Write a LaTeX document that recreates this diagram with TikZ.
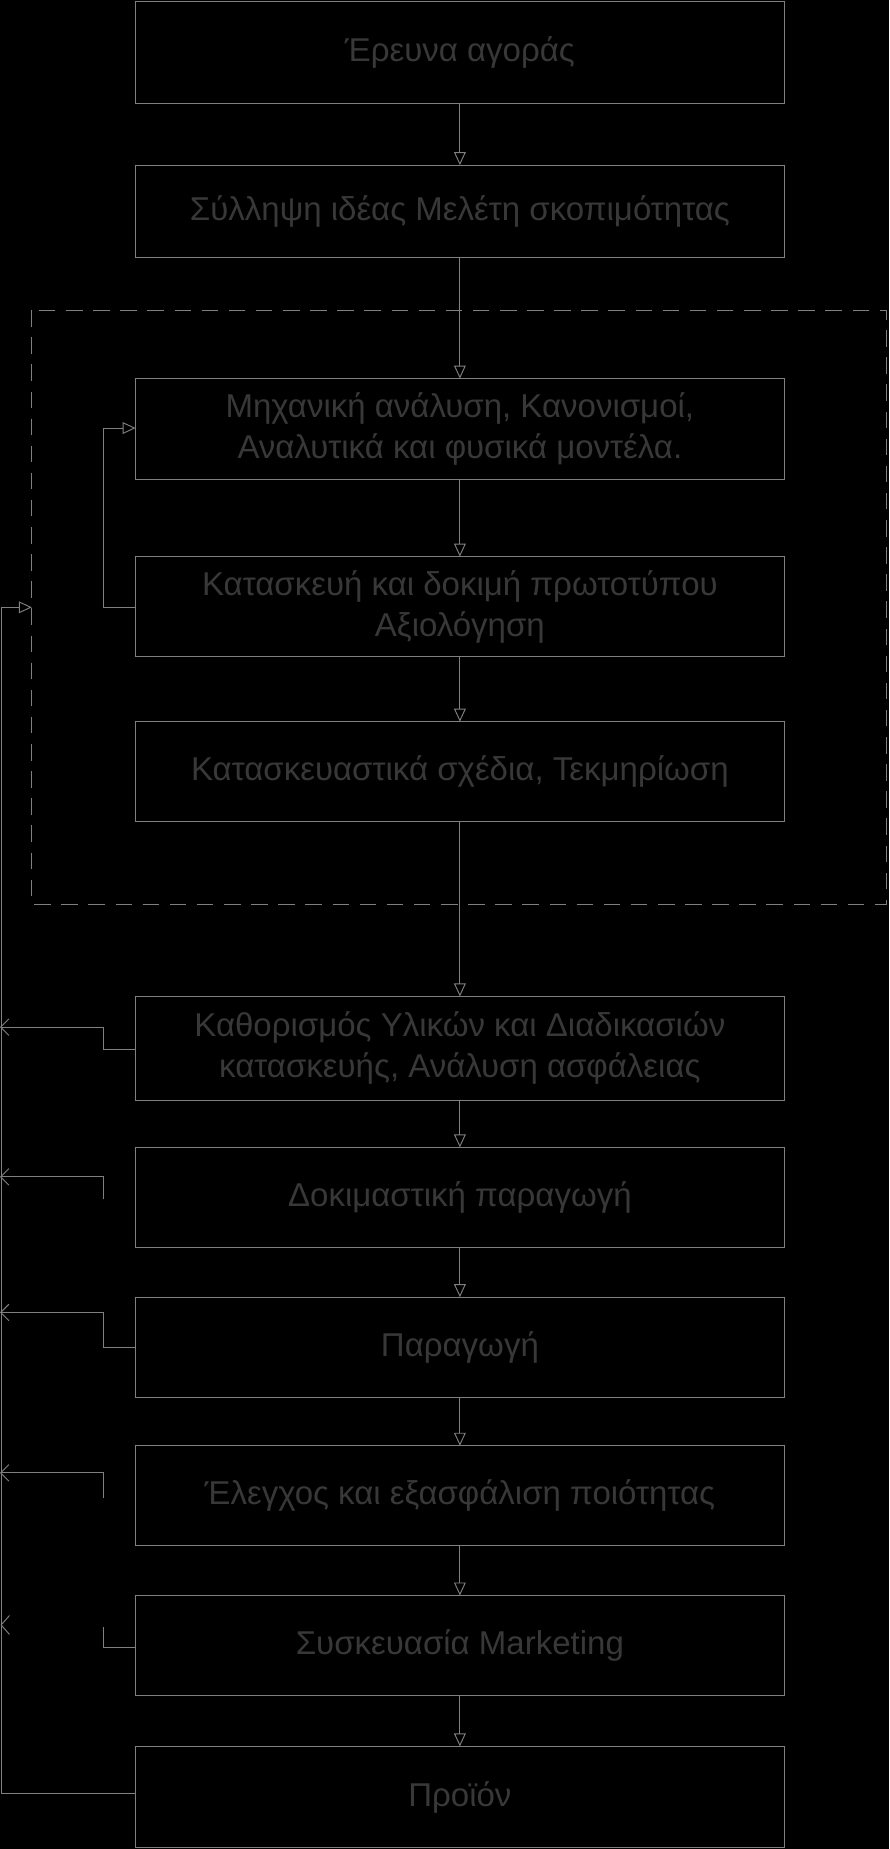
\documentclass[tikz,border=0pt]{standalone}
\usepackage{fontspec}
\setmainfont{Liberation Sans}
\usetikzlibrary{arrows.meta}
\begin{document}
\begin{tikzpicture}[x=1pt,y=-1pt,
  ln/.style={draw=black!50,line width=0.8pt},
  arr/.style={ln,-{Triangle[open,length=11pt,width=10pt]}},
  larr/.style={ln,-{Straight Barb[length=7pt,width=14pt]}},
  txt/.style={text=black!78,font=\fontsize{28}{35}\selectfont,align=center}]
\fill[black] (0,0) rectangle (754,1568);
\useasboundingbox (0,0) rectangle (754,1568);
\def\bx#1#2#3#4{\draw[ln] (115,#2) rectangle (665,#3);
  \node[txt] (#1) at (390,{(#2+#3)/2}) {#4};
  \coordinate (#1t) at (390,#2); \coordinate (#1b) at (390,#3);}
\bx{b1}{1}{88}{Έρευνα αγοράς}
\bx{b2}{140}{218}{Σύλληψη ιδέας Μελέτη σκοπιμότητας}
\bx{b3}{321}{407}{Μηχανική ανάλυση, Κανονισμοί,\\Αναλυτικά και φυσικά μοντέλα.}
\bx{b4}{472}{557}{Κατασκευή και δοκιμή πρωτοτύπου\\Αξιολόγηση}
\bx{b5}{612}{697}{Κατασκευαστικά σχέδια, Τεκμηρίωση}
\bx{b6}{845}{933}{Καθορισμός Υλικών και Διαδικασιών\\κατασκευής, Ανάλυση ασφάλειας}
\bx{b7}{973}{1058}{Δοκιμαστική παραγωγή}
\bx{b8}{1100}{1185}{Παραγωγή}
\bx{b9}{1226}{1311}{Έλεγχος και εξασφάλιση ποιότητας}
\bx{b10}{1353}{1438}{Συσκευασία Marketing}
\bx{b11}{1481}{1567}{Προϊόν}
\draw[ln,dash pattern=on 14pt off 9pt] (27,263) rectangle (752,767);
\foreach \a/\b in {b1/b2,b2/b3,b3/b4,b4/b5,b5/b6,b6/b7,b7/b8,b8/b9,b9/b10,b10/b11}
  \draw[arr] (\a b) -- (\b t);
% inner loop
\draw[arr] (115,515) -- (88,515) -- (88,363) -- (115,363);
% main return line
\coordinate (mainend) at (27,515);
\draw[arr] (115,1521) -- (1,1521) -- (1,515) -- (mainend);
% feedback arrows
\draw[larr] (115,890) -- (88,890) -- (88,871) -- (0,871);
\draw[larr] (88,1017) -- (88,998) -- (0,998);
\draw[larr] (115,1143) -- (88,1143) -- (88,1113) -- (0,1113);
\draw[larr] (88,1270) -- (88,1249) -- (0,1249);
\draw[ln] (115,1397) -- (88,1397) -- (88,1380);
\draw[ln] (8,1370) -- (1,1378) -- (8,1386);
\end{tikzpicture}
\end{document}
